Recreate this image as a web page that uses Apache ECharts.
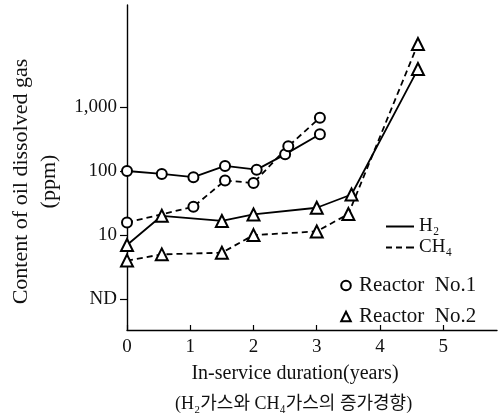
<!DOCTYPE html>
<html>
<head>
<meta charset="utf-8">
<script src="https://cdn.jsdelivr.net/npm/echarts@6/dist/echarts.min.js"></script>
<style>
  html, body { margin: 0; padding: 0; background: #fff; }
  #chart { width: 500px; height: 418px; }
</style>
</head>
<body>
<div id="chart"></div>
<script>
// values (x in years, y in ppm, log scale; 1 = ND)
const xTicks = [0, 1, 2, 3, 4, 5]
const yTicks = [1, 10, 100, 1000]

const r1H2X = [0, 0.55, 1.05, 1.55, 2.05, 2.5, 3.05]
const r1H2 = [100, 90, 80, 120, 105, 182, 375]

const r1CH4X = [0, 1.05, 1.55, 2.0, 2.55, 3.05]
const r1CH4 = [15.7, 27.7, 71, 65, 243, 680]

const r2H2X = [0, 0.55, 1.5, 2.0, 3.0, 3.55, 4.6]
const r2H2 = [7, 20, 16.6, 21, 26.7, 43, 3900]

const r2CH4X = [0, 0.55, 1.5, 2.0, 3.0, 3.5, 4.6]
const r2CH4 = [4.0, 5.0, 5.3, 10, 11.4, 21.3, 9600]

const serif = '"Liberation Serif", "DejaVu Serif", "Noto Sans CJK KR", serif'

function pairs(xs, ys) {
  return xs.map((x, i) => [x, ys[i]])
}

function gasSeries(name, xs, ys, symbol, dashed) {
  return {
    name: name,
    type: 'line',
    data: pairs(xs, ys),
    symbol: symbol,
    symbolSize: symbol === 'emptyTriangle' ? 12 : 10,
    itemStyle: { color: '#000', borderWidth: 1.4 },
    lineStyle: {
      color: '#000',
      width: 1.8,
      type: dashed ? [6, 4] : 'solid'
    },
    animation: false
  }
}

// empty series only used to build the legend keys
function keySeries(name, symbol) {
  return {
    name: name,
    type: 'line',
    data: [],
    symbol: symbol,
    symbolSize: symbol === 'emptyTriangle' ? 12 : 10,
    itemStyle: { color: '#000', borderWidth: 1.4 },
    lineStyle: { color: '#000', width: 0 }
  }
}

const chart = echarts.init(document.getElementById('chart'))
chart.setOption({
  backgroundColor: '#fff',
  animation: false,
  grid: {
    left: 127,
    right: 3,
    top: 5,
    bottom: 88,
    containLabel: false,
    outerBoundsMode: 'none'
  },
  xAxis: {
    type: 'value',
    min: 0,
    max: 5.85,
    interval: 1,
    name: 'In-service duration(years)',
    nameLocation: 'middle',
    nameGap: 34,
    nameTextStyle: {
      fontFamily: serif,
      fontSize: 20,
      color: '#111',
      padding: [0, 34, 0, 0]
    },
    axisLine: { lineStyle: { color: '#000', width: 1.4 } },
    axisTick: {
      inside: true,
      length: 5,
      customValues: xTicks,
      lineStyle: { color: '#000', width: 1.2 }
    },
    axisLabel: {
      customValues: xTicks,
      margin: 8,
      fontFamily: serif,
      fontSize: 19,
      color: '#111'
    },
    splitLine: { show: false }
  },
  yAxis: {
    type: 'log',
    logBase: 10,
    min: 0.33,
    max: 39000,
    name: 'Content of oil dissolved gas\n(ppm)',
    nameLocation: 'middle',
    nameRotate: 90,
    nameGap: 62,
    nameTextStyle: {
      fontFamily: serif,
      fontSize: 22,
      lineHeight: 28,
      color: '#111',
      padding: [0, 28, 0, 0]
    },
    axisLine: { show: true, lineStyle: { color: '#000', width: 1.4 } },
    axisTick: {
      show: true,
      length: 7,
      customValues: yTicks,
      lineStyle: { color: '#000', width: 1.2 }
    },
    axisLabel: {
      customValues: yTicks,
      margin: 10,
      fontFamily: serif,
      fontSize: 19,
      color: '#111',
      formatter: function (v) {
        if (v === 1) return 'ND'
        if (v === 1000) return '1,000'
        return String(v)
      }
    },
    splitLine: { show: false }
  },
  legend: [
    {
      data: [
        { name: 'H₂', icon: 'path://M0,0h28v2h-28z' },
        { name: 'CH₄', icon: 'path://M0,0h6v2h-6z M10,0h6v2h-6z M20,0h8v2h-8z' }
      ],
      orient: 'vertical',
      left: 381,
      top: 212,
      itemWidth: 28,
      itemHeight: 2,
      itemGap: 2,
      selectedMode: false,
      textStyle: { fontFamily: serif, fontSize: 19, color: '#111' }
    },
    {
      data: ['Reactor  No.1', 'Reactor  No.2'],
      orient: 'vertical',
      left: 333,
      top: 270,
      itemWidth: 16,
      itemHeight: 12,
      itemGap: 10,
      selectedMode: false,
      textStyle: { fontFamily: serif, fontSize: 21, color: '#111' }
    }
  ],
  graphic: [
    {
      type: 'text',
      left: 175,
      top: 395,
      style: {
        text: '(H₂가스와 CH₄가스의 증가경향)',
        font: '18px ' + serif,
        fill: '#111'
      }
    }
  ],
  series: [
    gasSeries('R1 H2', r1H2X, r1H2, 'emptyCircle', false),
    gasSeries('R1 CH4', r1CH4X, r1CH4, 'emptyCircle', true),
    gasSeries('R2 H2', r2H2X, r2H2, 'emptyTriangle', false),
    gasSeries('R2 CH4', r2CH4X, r2CH4, 'emptyTriangle', true),
    keySeries('H₂', 'none'),
    keySeries('CH₄', 'none'),
    keySeries('Reactor  No.1', 'emptyCircle'),
    keySeries('Reactor  No.2', 'emptyTriangle')
  ]
})
</script>
</body>
</html>
